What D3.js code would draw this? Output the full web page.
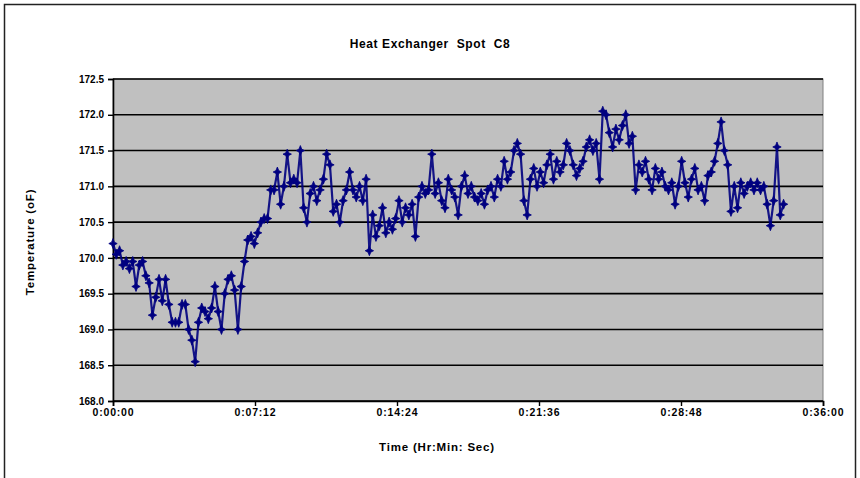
<!DOCTYPE html>
<html>
<head>
<meta charset="utf-8">
<script src="https://cdn.jsdelivr.net/npm/d3@7"></script>
<style>
html,body{margin:0;padding:0;background:#fff;}
svg{display:block;}
text{font-family:"Liberation Sans",Arial,sans-serif;}
</style>
</head>
<body>
<div id="chart"></div>
<script>
// ---- data ----
const chartTitle = "Heat Exchanger  Spot  C8";
const xAxisTitle = "Time (Hr:Min: Sec)";
const yAxisTitle = "Temperature (oF)";
const sampleIntervalSec = 10;
const temperatures = [
 170.2,170.05,170.1,169.9,169.95,169.85,169.95,169.6,169.9,169.95,
 169.75,169.65,169.2,169.45,169.7,169.4,169.7,169.35,169.1,169.1,
 169.1,169.35,169.35,169.0,168.85,168.55,169.1,169.3,169.25,169.15,
 169.3,169.6,169.25,169.0,169.5,169.7,169.75,169.55,169.0,169.6,
 169.95,170.25,170.3,170.2,170.35,170.5,170.55,170.55,170.95,170.95,
 171.2,170.75,171.0,171.45,171.05,171.1,171.05,171.5,170.7,170.5,
 170.9,171.0,170.8,170.95,171.1,171.45,171.3,170.65,170.75,170.5,
 170.8,170.95,171.2,170.95,170.85,171.0,170.8,171.1,170.1,170.6,
 170.3,170.45,170.7,170.35,170.5,170.4,170.55,170.8,170.5,170.7,
 170.6,170.75,170.3,170.85,171.0,170.9,170.95,171.45,170.9,171.05,
 170.8,170.7,171.1,170.95,170.85,170.6,171.0,171.15,170.9,171.0,
 170.85,170.8,170.9,170.75,170.95,171.0,170.85,171.1,171.0,171.35,
 171.1,171.2,171.5,171.6,171.45,170.8,170.6,171.1,171.25,171.0,
 171.2,171.05,171.3,171.45,171.1,171.35,171.2,171.3,171.6,171.5,
 171.3,171.15,171.25,171.35,171.55,171.65,171.5,171.6,171.1,172.05,
 172.0,171.75,171.55,171.8,171.65,171.85,172.0,171.6,171.7,170.95,
 171.3,171.2,171.35,171.1,170.95,171.25,171.1,171.2,171.0,170.95,
 171.05,170.75,171.0,171.35,171.05,170.85,171.1,171.25,170.95,171.0,
 170.8,171.15,171.2,171.35,171.6,171.9,171.5,171.3,170.65,171.0,
 170.7,171.05,170.9,171.0,171.05,170.95,171.05,170.95,171.0,170.75,
 170.45,170.8,171.55,170.6,170.75
];
const yTicks = [168.0,168.5,169.0,169.5,170.0,170.5,171.0,171.5,172.0,172.5];
const xTicksSec = [0,432,864,1296,1728,2160];
const xTickLabels = ["0:00:00","0:07:12","0:14:24","0:21:36","0:28:48","0:36:00"];

// ---- layout ----
const W = 860, H = 478;
const plot = {left:113, top:79, right:823, bottom:401};

const svg = d3.select("#chart").append("svg").attr("width",W).attr("height",H);

// outer chart border
svg.append("rect").attr("x",4.5).attr("y",4.5).attr("width",851).attr("height",490)
  .attr("fill","#fff").attr("stroke","#222").attr("stroke-width",1.5);

const x = d3.scaleLinear().domain([0,2160]).range([plot.left,plot.right]);
const y = d3.scaleLinear().domain([168,172.5]).range([plot.bottom,plot.top]);

// plot area
svg.append("rect").attr("x",plot.left).attr("y",plot.top)
  .attr("width",plot.right-plot.left).attr("height",plot.bottom-plot.top)
  .attr("fill","#c0c0c0").attr("stroke","#808080").attr("stroke-width",1);

// gridlines
svg.append("g").selectAll("line").data(yTicks).join("line")
  .attr("x1",plot.left).attr("x2",plot.right)
  .attr("y1",d=>y(d)).attr("y2",d=>y(d))
  .attr("stroke","#000").attr("stroke-width",1.6);

// axes
const yAxis = d3.axisLeft(y).tickValues(yTicks).tickFormat(d3.format(".1f")).tickSize(5).tickPadding(4);
const gy = svg.append("g").attr("transform",`translate(${plot.left},0)`).call(yAxis);
gy.select(".domain").attr("stroke","#000").attr("stroke-width",1.6);
gy.selectAll(".tick line").attr("stroke","#000").attr("stroke-width",1.4);
gy.selectAll(".tick text").attr("font-size",10).attr("fill","#000").attr("font-weight","bold")
  .attr("font-family","'Liberation Sans',Arial,sans-serif");

const xAxis = d3.axisBottom(x).tickValues(xTicksSec).tickFormat((d,i)=>xTickLabels[i]).tickSize(5).tickPadding(3);
const gx = svg.append("g").attr("transform",`translate(0,${plot.bottom})`).call(xAxis);
gx.select(".domain").attr("stroke","#000").attr("stroke-width",1.6);
gx.selectAll(".tick line").attr("stroke","#000").attr("stroke-width",1.4);
gx.selectAll(".tick text").attr("font-size",10.5).attr("fill","#000").attr("font-weight","bold")
  .attr("letter-spacing","0.8px")
  .attr("font-family","'Liberation Sans',Arial,sans-serif");

// series
const data = temperatures.map((t,i)=>({t:i*sampleIntervalSec, v:t}));
const line = d3.line().x(d=>x(d.t)).y(d=>y(d.v));
svg.append("path").datum(data).attr("d",line)
  .attr("fill","none").attr("stroke","#000080").attr("stroke-width",2.2).attr("stroke-opacity",0.9);

function starPath(rx, ry, r){
  const pts = [];
  for(let k=0;k<8;k++){
    const a = k*Math.PI/4 - Math.PI/2;
    const outer = k%2===0;
    const rr = outer ? 1 : r;
    const sx = outer ? (k%4===0 ? ry : rx) : 1;
    pts.push([Math.cos(a)*rr*sx, Math.sin(a)*rr*sx]);
  }
  return "M"+pts.map(p=>p[0].toFixed(2)+","+p[1].toFixed(2)).join("L")+"Z";
}
const marker = starPath(4.2, 5.0, 2.0);
svg.append("g").selectAll("path").data(data).join("path")
  .attr("transform",d=>`translate(${x(d.t)},${y(d.v)})`)
  .attr("d",marker).attr("fill","#000080").attr("stroke","#000080").attr("stroke-width",0.8);

// titles
svg.append("text").attr("x",430).attr("y",48).attr("text-anchor","middle")
  .attr("font-size",12).attr("font-weight","bold").attr("fill","#000")
  .attr("letter-spacing","0.6px")
  .style("white-space","pre").text(chartTitle);
svg.append("text").attr("x",437).attr("y",451).attr("text-anchor","middle")
  .attr("font-size",11.5).attr("font-weight","bold").attr("fill","#000")
  .attr("letter-spacing","0.8px")
  .text(xAxisTitle);
svg.append("text").attr("transform","translate(34,242) rotate(-90)").attr("text-anchor","middle")
  .attr("font-size",11.5).attr("font-weight","bold").attr("fill","#000")
  .attr("letter-spacing","0.8px")
  .text(yAxisTitle);
</script>
</body>
</html>
